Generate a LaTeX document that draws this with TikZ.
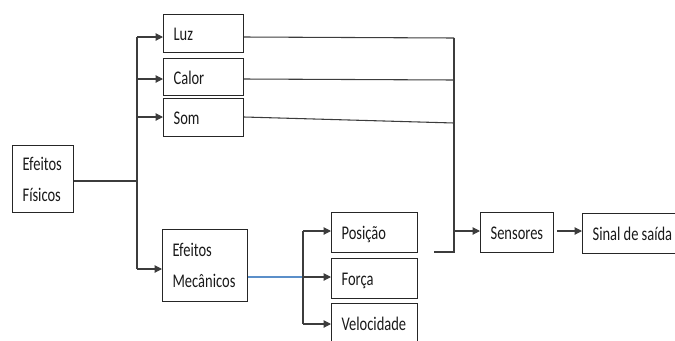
\documentclass[tikz,border=0pt]{standalone}
\usepackage{fontspec}
\setmainfont{Carlito}[FakeStretch=0.75]
\usetikzlibrary{arrows.meta}
\definecolor{ln}{HTML}{3C3C3C}
\definecolor{bl}{HTML}{5B8FC9}
\definecolor{tx}{HTML}{1A1A1A}
\newcommand\bxfont{\fontsize{14.5}{23}\selectfont}
\newcommand\bxspace{\spaceskip 2.4pt\relax\xspaceskip 2.4pt\relax}
\tikzset{
  box/.style={draw=black!85, line width=0.9pt, rectangle, anchor=north west, inner xsep=7.5pt, inner ysep=0pt,
    align=left, font=\bxfont, text=tx, execute at begin node=\bxspace},
  one/.style={text height=11pt, text depth=0pt},
  conn/.style={draw=ln, line width=0.8pt},
  arr/.style={conn, -{Triangle[length=5.5pt,width=5.5pt]}}
}
\begin{document}
\begin{tikzpicture}[x=0.75pt,y=-0.75pt]
\useasboundingbox (0,0) rectangle (675,340);
% boxes
\node[box, minimum width=45.75pt, minimum height=50.25pt, text width=30.75pt] (fis) at (12,145) {Efeitos\\Físicos};
\node[box, one, minimum width=60pt, minimum height=28.5pt, text width=45pt] (luz) at (163,14) {Luz};
\node[box, one, minimum width=60pt, minimum height=27.75pt, text width=45pt] (calor) at (163,58) {Calor};
\node[box, one, minimum width=60pt, minimum height=28.5pt, text width=45pt] (som) at (163,98) {Som};
\node[box, minimum width=63.75pt, minimum height=54pt, text width=48.75pt] (mec) at (162,229) {Efeitos\\Mecânicos};
\node[box, one, minimum width=64.5pt, minimum height=30pt, text width=49.5pt] (pos) at (331,212) {Posição};
\node[box, one, minimum width=64.5pt, minimum height=30pt, text width=49.5pt] (forca) at (331,258) {Força};
\node[box, one, minimum width=64.5pt, minimum height=30pt, text width=49.5pt] (vel) at (331,303) {Velocidade};
\node[box, one, minimum width=54.75pt, minimum height=30pt, text width=39.75pt] (sens) at (480,212) {Sensores};
\node[box, one, minimum width=75pt, minimum height=30pt, text width=66pt] (sinal) at (582,213) {Sinal de saída};
% junction coordinates
\coordinate (t1) at (137,181);
\coordinate (tl) at (137,37);
\coordinate (tc) at (137,79);
\coordinate (ts) at (137,117);
\coordinate (tm) at (137,269);
\coordinate (m0) at (303,277);
\coordinate (mp) at (303,231);
\coordinate (mv) at (303,324);
\coordinate (rl) at (454,38);
\coordinate (rc) at (454,80);
\coordinate (rs) at (454,123);
\coordinate (rb) at (454,252);
\coordinate (rf) at (434,252);
\coordinate (ra) at (454,231);
\coordinate (se) at (557,231);
% left tree
\draw[conn] (fis.east |- t1) -- (t1);
\draw[conn] (tl) -- (tm);
\draw[arr] (tl) -- (luz.west |- tl);
\draw[arr] (tc) -- (calor.west |- tc);
\draw[arr] (ts) -- (som.west |- ts);
\draw[arr] (tm) -- (mec.west |- tm);
% mechanical tree
\draw[draw=bl, line width=0.8pt] (mec.east |- m0) -- (m0);
\draw[conn] (mp) -- (mv);
\draw[arr] (mp) -- (pos.west |- mp);
\draw[arr] (m0) -- (forca.west |- m0);
\draw[arr] (mv) -- (vel.west |- mv);
% collector
\draw[conn] (luz.east |- 0,37) -- (rl);
\draw[conn] (calor.east |- 0,79) -- (rc);
\draw[conn] (som.east |- 0,117) -- (rs);
\draw[conn] (rl) -- (rb) -- (rf);
\draw[arr] (ra) -- (sens.west |- ra);
\draw[arr] (se) -- (sinal.west |- se);
\end{tikzpicture}
\end{document}
